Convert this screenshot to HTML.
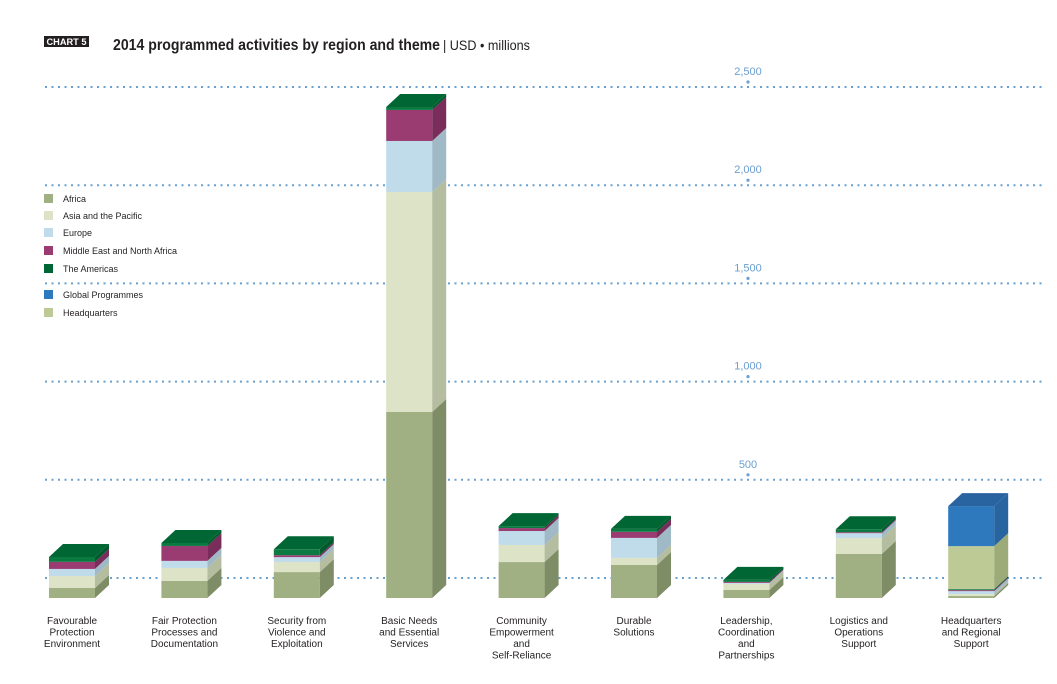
<!DOCTYPE html>
<html><head><meta charset="utf-8"><style>
body{margin:0;background:#fff;}
svg{display:block;font-family:"Liberation Sans",sans-serif;}
</style></head><body>
<svg id="chart" width="1057" height="684" viewBox="0 0 1057 684"></svg>
<script>
const categories=[["Favourable","Protection","Environment"],["Fair Protection","Processes and","Documentation"],["Security from","Violence and","Exploitation"],["Basic Needs","and Essential","Services"],["Community","Empowerment","and","Self-Reliance"],["Durable","Solutions"],["Leadership,","Coordination","and","Partnerships"],["Logistics and","Operations","Support"],["Headquarters","and Regional","Support"]];
const seriesNames=["Africa","Asia and the Pacific","Europe","Middle East and North Africa","The Americas","Headquarters","Global Programmes"];
const africa=[51,87,132,947,183,168,41,224,10];
const asiaPacific=[61,66,51,1120,87,36,31,81,10];
const europe=[36,36,25,260,71,102,5,25,15];
const mena=[36,76,10,158,15,31,5,5,5];
const americas=[25,15,30,15,10,15,10,15,5];
const headquarters=[0,0,0,0,0,0,0,0,219];
const globalProgrammes=[0,0,0,0,0,0,0,0,204];
const tickValues=[500,1000,1500,2000,2500];
const tickLabels=["500","1,000","1,500","2,000","2,500"];

const series=[africa,asiaPacific,europe,mena,americas,headquarters,globalProgrammes];
const front=["#a0b082","#dde3c6","#c0dcea","#9a3c72","#0a7a40","#bdca95","#2e78be"];
const side=["#7f8d66","#b4bda0","#9fb9c6","#7a2d5a","#005a2c","#9cab78","#2764a0"];
const topc=["#8a9a6c","#c9d0b0","#a9c6d4","#86335f","#006633","#a8b684","#2a64a0"];
const seriesKeys=["africa","asia-pacific","europe","mena","americas","headquarters","global-programmes"];

const NS="http://www.w3.org/2000/svg";
const svg=document.getElementById('chart');
const y0=598, pxPer=98.2/500;
function yScale(v){return y0-v*pxPer;}
function xScale(i){return 49+i*112.4;}
const bw=46, dx=14, dy=13;
function el(tag,attrs,parent){const e=document.createElementNS(NS,tag);for(const k in attrs)e.setAttribute(k,attrs[k]);(parent||svg).appendChild(e);return e;}

const cb=el('rect',{x:44,y:36,width:45,height:11,fill:'#231f20'});


const cbt=el('text',{x:66.5,y:45,'font-size':9,'font-weight':'bold',fill:'#fff','text-anchor':'middle',textLength:40,lengthAdjust:'spacingAndGlyphs'});cbt.textContent='CHART 5';


const tt=el('text',{x:113,y:50,'font-size':16,'font-weight':'bold',fill:'#231f20',textLength:327,lengthAdjust:'spacingAndGlyphs'});tt.textContent='2014 programmed activities by region and theme';


const st=el('text',{x:443,y:50,'font-size':14,fill:'#231f20',textLength:87,lengthAdjust:'spacingAndGlyphs'});st.textContent='| USD • millions';



[0].concat(tickValues).forEach((v,i)=>{
  const g=el('line',{x1:45,x2:1045,y1:yScale(v)-20,y2:yScale(v)-20,stroke:'#6a9fd0','stroke-width':2,'stroke-dasharray':'2 4.5'});
  
  
});
tickValues.forEach((v,i)=>{
  const t=el('text',{x:748,y:yScale(v)-32,'font-size':11,fill:'#6a9fd0','text-anchor':'middle'});t.textContent=tickLabels[i];
  
  
  const d=el('circle',{cx:748,cy:yScale(v)-25,r:1.6,fill:'#6a9fd0'});
  
  
});

categories.forEach((cat,i)=>{
  const x=xScale(i);let cum=0;let lastIdx=0;
  series.forEach((s,k)=>{
    const v=s[i];if(!v)return;
    const yb=yScale(cum), yt=yScale(cum+v);
    const f=el('rect',{x:x,y:yt,width:bw,height:yb-yt,fill:front[k]});
    
    
    const sd=el('polygon',{points:`${x+bw},${yt} ${x+bw+dx},${yt-dy} ${x+bw+dx},${yb-dy} ${x+bw},${yb}`,fill:side[k]});
    
    
    cum+=v;lastIdx=k;
  });
  const yt=yScale(cum);
  const tp=el('polygon',{points:`${x},${yt} ${x+dx},${yt-dy} ${x+bw+dx},${yt-dy} ${x+bw},${yt}`,fill:topc[lastIdx]});
  
  
  const lab=el('text',{'font-size':10,fill:'#231f20','text-anchor':'middle'});
  
  
  cat.forEach((line,j)=>{const ts=el('tspan',{x:x+bw/2,y:624+j*11.5},lab);ts.textContent=line;});
});

const legendY=[199,216,233,251,269,295,313];
const legendOrder=[0,1,2,3,4,6,5];
legendOrder.forEach((k,j)=>{
  const r=el('rect',{x:44,y:legendY[j]-5,width:9,height:9,fill:k===4?'#006633':front[k]});
  
  
  const t=el('text',{x:63,y:legendY[j]+3,'font-size':9,fill:'#231f20'});t.textContent=seriesNames[k];
  
  
});
</script>
</body></html>
